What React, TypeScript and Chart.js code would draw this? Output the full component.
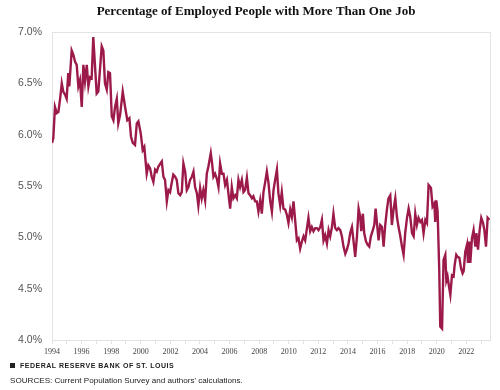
import React, { useEffect, useRef } from "react";
import { Chart, registerables } from "chart.js";

Chart.register(...registerables);

const TITLE = "Percentage of Employed People with More Than One Job";
const SOURCE_BANK = "FEDERAL RESERVE BANK OF ST. LOUIS";
const SOURCE_NOTE = "SOURCES: Current Population Survey and authors' calculations.";

const yTicks = [4.0, 4.5, 5.0, 5.5, 6.0, 6.5, 7.0];
const xTickYears = [1994, 1996, 1998, 2000, 2002, 2004, 2006, 2008, 2010, 2012, 2014, 2016, 2018, 2020, 2022];

// Decimal-year offsets from 1994
const offsets1994to2000 = [
  0.0, 0.09, 0.2, 0.32, 0.43, 0.54, 0.66, 0.76, 0.88, 0.99, 1.1, 1.17, 1.33, 1.44, 1.56, 1.67, 1.78, 1.89,
  2.01, 2.12, 2.23, 2.35, 2.46, 2.57, 2.68, 2.79, 2.91, 3.02, 3.13, 3.36, 3.47, 3.58, 3.7, 3.81, 3.92,
  4.04, 4.15, 4.26, 4.38, 4.48, 4.6, 4.78, 4.94, 5.09, 5.23, 5.34, 5.46, 5.61, 5.73, 5.84,
];
const rates1994to2000 = [
  5.92, 5.97, 6.27, 6.21, 6.22, 6.34, 6.5, 6.42, 6.39, 6.35, 6.6, 6.47, 6.82, 6.78, 6.71, 6.68, 6.47, 6.53,
  6.27, 6.68, 6.52, 6.68, 6.47, 6.56, 6.55, 6.95, 6.66, 6.4, 6.42, 6.86, 6.82, 6.5, 6.44, 6.61, 6.6,
  6.18, 6.14, 6.27, 6.35, 6.11, 6.19, 6.42, 6.27, 6.14, 6.16, 5.98, 5.92, 5.9, 6.11, 6.13,
];

const offsets2000to2008 = [
  6.0, 6.13, 6.24, 6.4, 6.51, 6.63, 6.74, 6.85, 6.97, 7.08, 7.19, 7.42, 7.53, 7.64, 7.76, 7.87, 7.98,
  8.1, 8.2, 8.32, 8.43, 8.54, 8.66, 8.77, 8.88, 9.0, 9.11, 9.22, 9.33, 9.45, 9.56, 9.67, 9.79, 9.89,
  10.01, 10.12, 10.23, 10.35, 10.46, 10.57, 10.73, 10.82, 10.91, 11.02, 11.14, 11.25, 11.36, 11.48,
  11.59, 11.7, 11.82, 11.92, 12.04, 12.15, 12.26, 12.38, 12.49, 12.6, 12.71, 12.83, 12.94, 13.05,
  13.17, 13.28, 13.39, 13.51, 13.61, 13.73, 13.84, 13.95,
];
const rates2000to2008 = [
  6.01, 5.85, 5.88, 5.62, 5.7, 5.67, 5.59, 5.54, 5.66, 5.64, 5.69, 5.74, 5.59, 5.56, 5.35, 5.46, 5.44,
  5.54, 5.61, 5.59, 5.56, 5.43, 5.41, 5.44, 5.72, 5.64, 5.46, 5.49, 5.56, 5.59, 5.64, 5.49, 5.43, 5.31,
  5.48, 5.38, 5.46, 5.36, 5.62, 5.69, 5.82, 5.72, 5.59, 5.62, 5.57, 5.49, 5.72, 5.62,
  5.62, 5.51, 5.56, 5.43, 5.28, 5.49, 5.38, 5.41, 5.38, 5.56, 5.49, 5.56, 5.44, 5.46,
  5.58, 5.43, 5.41, 5.38, 5.4, 5.35, 5.35, 5.25,
];

const offsets2008to2019 = [
  14.07, 14.18, 14.29, 14.41, 14.52, 14.63, 14.74, 14.86, 14.97, 15.08, 15.2, 15.3, 15.42, 15.53, 15.64,
  15.76, 15.87, 15.98, 16.1, 16.21, 16.32, 16.43, 16.55, 16.66, 16.77, 16.89, 17.0, 17.11, 17.23, 17.33,
  17.45, 17.56, 17.67, 17.79, 17.9, 18.01, 18.13, 18.24, 18.35, 18.46, 18.58, 18.69, 18.8, 18.92, 19.02,
  19.14, 19.25, 19.36, 19.48, 19.59, 19.7, 19.82, 19.93, 20.04, 20.15, 20.27, 20.38, 20.49, 20.61, 20.72,
  20.83, 20.9, 21.01, 21.1, 21.22, 21.32, 21.44, 21.55, 21.66, 21.78, 21.87, 21.96, 22.07, 22.18, 22.3,
  22.41, 22.52, 22.64, 22.74, 22.86, 22.97, 23.08, 23.2, 23.31, 23.42, 23.54, 23.65, 23.76, 23.87, 23.99,
  24.1, 24.21, 24.33, 24.44, 24.55, 24.66, 24.77, 24.89, 25.0, 25.11, 25.23, 25.34,
];
const rates2008to2019 = [
  5.36, 5.23, 5.44, 5.54, 5.64, 5.53, 5.36, 5.25, 5.46, 5.56, 5.66, 5.43, 5.31, 5.44, 5.28,
  5.27, 5.22, 5.14, 5.27, 5.2, 5.35, 5.17, 4.97, 4.99, 4.89, 4.96, 5.01, 4.97, 5.09, 5.19,
  5.06, 5.1, 5.06, 5.09, 5.09, 5.07, 5.1, 5.17, 4.97, 5.02, 4.94, 5.07, 5.01, 5.1, 5.23,
  5.09, 5.07, 5.09, 5.07, 5.01, 4.91, 4.84, 4.88, 4.94, 5.04, 5.1, 4.96, 4.81, 5.01, 5.28,
  5.2, 5.06, 5.23, 5.04, 4.96, 4.93, 4.91, 5.01, 5.06, 5.12, 5.28, 5.14, 4.97, 5.12, 5.1,
  4.91, 5.12, 5.28, 5.38, 5.41, 5.12, 5.27, 5.38, 5.2, 5.1, 5.01, 4.91, 4.83, 5.04, 5.19,
  5.28, 5.2, 5.04, 5.01, 5.23, 5.12, 5.19, 5.15, 5.17, 5.04, 5.17, 5.14,
];

const offsets2019to2023 = [
  25.45, 25.61, 25.72, 25.84, 25.9, 25.97, 26.06, 26.17, 26.24, 26.36, 26.46, 26.58, 26.65, 26.73, 26.83,
  26.92, 27.03, 27.14, 27.21, 27.32, 27.41, 27.53, 27.64, 27.75, 27.82, 27.93, 28.05, 28.11, 28.2, 28.27,
  28.38, 28.49, 28.61, 28.68, 28.79, 28.9, 29.01, 29.13, 29.22, 29.33, 29.44, 29.56,
];
const rates2019to2023 = [
  5.51, 5.48, 5.3, 5.33, 5.15, 5.36, 5.25, 4.68, 4.13, 4.11, 4.78, 4.83, 4.58, 4.62, 4.52,
  4.44, 4.63, 4.62, 4.73, 4.83, 4.81, 4.8, 4.7, 4.65, 4.67, 4.86, 4.93, 4.75, 4.96, 4.75,
  4.99, 5.07, 4.91, 5.04, 4.88, 5.07, 5.19, 5.14, 5.07, 4.91, 5.19, 5.17,
];

const START_YEAR = 1994;
const offsets = [...offsets1994to2000, ...offsets2000to2008, ...offsets2008to2019, ...offsets2019to2023];
const rates = [...rates1994to2000, ...rates2000to2008, ...rates2008to2019, ...rates2019to2023];

const LINE_COLOR = "#9c1a4a";
const FRAME_COLOR = "#e3e3e3";

const decorPlugin = {
  id: "decor",
  beforeDatasetsDraw(chart: any) {
    const { ctx, chartArea } = chart;
    ctx.save();
    ctx.strokeStyle = FRAME_COLOR;
    ctx.lineWidth = 1;
    ctx.strokeRect(
      Math.round(chartArea.left) + 0.5,
      Math.round(chartArea.top) + 0.5,
      Math.round(chartArea.right - chartArea.left),
      Math.round(chartArea.bottom - chartArea.top)
    );
    ctx.restore();
  },
  afterDraw(chart: any) {
    const { ctx } = chart;
    ctx.save();
    ctx.fillStyle = "#111";
    ctx.textBaseline = "middle";
    ctx.textAlign = "center";
    ctx.font = "bold 13px 'Liberation Serif', serif";
    ctx.fillText(TITLE, 256, 12);

    ctx.textAlign = "left";
    ctx.fillStyle = "#222";
    ctx.fillRect(10, 363, 5, 5);
    ctx.font = "bold 7px 'Liberation Sans', sans-serif";
    (ctx as any).letterSpacing = "0.5px";
    ctx.fillText(SOURCE_BANK, 20, 366);
    (ctx as any).letterSpacing = "0px";
    ctx.fillStyle = "#222";
    ctx.font = "8.1px 'Liberation Sans', sans-serif";
    ctx.fillText(SOURCE_NOTE, 10, 381);
    ctx.restore();
  },
};

export default function App() {
  const canvasRef = useRef<HTMLCanvasElement | null>(null);

  useEffect(() => {
    const canvas = canvasRef.current;
    if (!canvas) return;
    const points = offsets.map((o, i) => ({ x: START_YEAR + o, y: rates[i] }));
    const chart = new Chart(canvas, {
      type: "line",
      data: {
        datasets: [
          {
            data: points,
            borderColor: LINE_COLOR,
            borderWidth: 2.4,
            pointRadius: 0,
            tension: 0,
            fill: false,
          },
        ],
      },
      options: {
        responsive: false,
        animation: false,
        layout: { padding: { top: 32, right: 10, left: 0, bottom: 0 } },
        plugins: {
          legend: { display: false },
          tooltip: { enabled: false },
          title: { display: false },
        },
        scales: {
          x: {
            type: "linear",
            min: 1994,
            max: 2023.6,
            afterFit: (scale: any) => {
              scale.height = 50;
            },
            ticks: {
              stepSize: 1,
              autoSkip: false,
              includeBounds: false,
              maxRotation: 0,
              padding: 3,
              color: "#444",
              font: { family: "'Liberation Serif', serif", size: 8 },
              callback: (v: any) => (xTickYears.includes(Number(v)) ? String(v) : ""),
            },
            grid: {
              display: true,
              drawOnChartArea: false,
              drawTicks: true,
              tickLength: 4,
              color: FRAME_COLOR,
            },
            border: { display: false },
          },
          y: {
            min: 4,
            max: 7,
            afterFit: (scale: any) => {
              scale.width = 52;
            },
            afterBuildTicks: (scale: any) => {
              scale.ticks = yTicks.map((v) => ({ value: v }));
            },
            ticks: {
              padding: 10,
              color: "#555",
              font: { family: "'Liberation Sans', sans-serif", size: 10.5 },
              callback: (v: any) => Number(v).toFixed(1) + "%",
            },
            grid: { display: false, drawTicks: false },
            border: { display: false },
          },
        },
      },
      plugins: [decorPlugin],
    });
    return () => chart.destroy();
  }, []);

  return (
    <div style={{ position: "absolute", left: 0, top: 0, width: 500, height: 390, background: "#fff" }}>
      <canvas ref={canvasRef} width={500} height={390} style={{ display: "block" }} />
    </div>
  );
}
